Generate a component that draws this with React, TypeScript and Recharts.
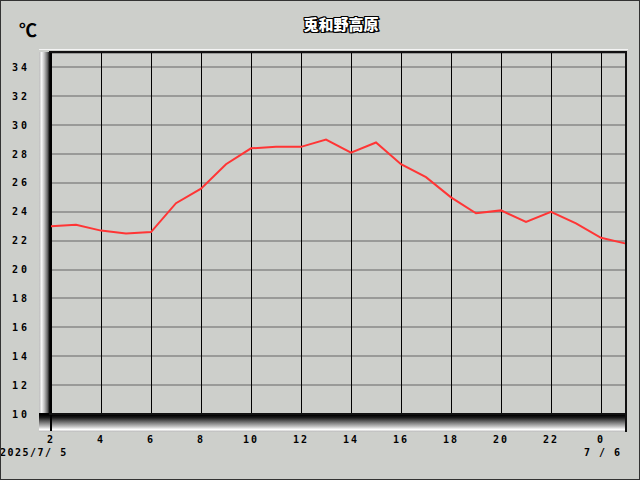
import { LineChart, Line, XAxis, YAxis, CartesianGrid } from "recharts";

// hours on the axis: 2 on 7/5 through 1 on 7/6 (24 = 0 on the next day)
const hours = [2, 3, 4, 5, 6, 7, 8, 9, 10, 11, 12, 13, 14, 15, 16, 17, 18, 19, 20, 21, 22, 23, 24, 25];
const temps = [
  23.0, 23.1, 22.7, 22.5, 22.6, 24.6, 25.6, 27.3, 28.4, 28.5, 28.5, 29.0,
  28.1, 28.8, 27.3, 26.4, 25.0, 23.9, 24.1, 23.3, 24.0, 23.2, 22.2, 21.8,
];
const xTicks = [2, 4, 6, 8, 10, 12, 14, 16, 18, 20, 22, 24];
const yTicks = [10, 12, 14, 16, 18, 20, 22, 24, 26, 28, 30, 32, 34];

const title = "兎和野高原";
const unit = "℃";
const startDate = "2025/7/ 5";
const endDate = "7 / 6";

const data = hours.map((h, i) => ({ hour: h, temp: temps[i] }));

const BG = "#cdcfcb";
const tickFont = "'DejaVu Sans Mono', monospace";

// eslint-disable-next-line @typescript-eslint/no-explicit-any
function XTick({ x, y, payload }: any) {
  return (
    <g>
      {payload.value === 2 && (
        <line x1={x} x2={x} y1={y} y2={y + 17} stroke="#000" strokeWidth={2} />
      )}
      <text
        x={x}
        y={y + 29}
        textAnchor="middle"
        fontFamily={tickFont}
        fontWeight="bold"
        fontSize={10}
        letterSpacing={2}
        fill="#000"
      >
        {payload.value % 24}
      </text>
    </g>
  );
}

// eslint-disable-next-line @typescript-eslint/no-explicit-any
function YTick({ x, y, payload }: any) {
  return (
    <g>
      {payload.value === 10 && (
        <line x1={x - 12} x2={x} y1={y} y2={y} stroke="#000" strokeWidth={2} />
      )}
      <text
        x={x - 39}
        y={y + 3.5}
        fontFamily={tickFont}
        fontWeight="bold"
        fontSize={10}
        letterSpacing={3}
        fill="#000"
      >
        {payload.value}
      </text>
    </g>
  );
}

const abs = (style: React.CSSProperties): React.CSSProperties => ({
  position: "absolute",
  pointerEvents: "none",
  ...style,
});

export default function App() {
  return (
    <div
      style={{
        position: "absolute",
        left: 0,
        top: 0,
        width: 640,
        height: 480,
        background: BG,
        boxSizing: "border-box",
        border: "1px solid #333",
        overflow: "hidden",
      }}
    >
      {/* bevelled frame round the plot */}
      <div style={abs({ left: 38, top: 48, width: 589, height: 1, background: "#f4f4f4" })} />
      <div
        style={abs({
          left: 38,
          top: 51,
          width: 12,
          height: 364,
          background:
            "linear-gradient(to right, #b8b8b8 0%, #f8f8f8 22%, #bdbdbd 45%, #6a6a6a 70%, #000 90%)",
        })}
      />
      <div
        style={abs({
          left: 38,
          top: 414,
          width: 588,
          height: 17,
          background:
            "linear-gradient(to bottom, #000 0%, #1a1a1a 15%, #6a6a6a 40%, #c8c8c8 70%, #ffffff 85%, #b5b5b5 100%)",
        })}
      />

      <div style={{ position: "absolute", left: -1, top: -1 }}>
        <LineChart
          width={640}
          height={480}
          data={data}
          margin={{ top: 53, right: 14, bottom: 0, left: 0 }}
        >
          <CartesianGrid
            vertical={false}
            stroke="#999a98"
            strokeWidth={2}
            shapeRendering="crispEdges"
          />
          <CartesianGrid
            horizontal={false}
            stroke="#000"
            strokeWidth={1}
            shapeRendering="crispEdges"
          />
          <XAxis
            dataKey="hour"
            type="number"
            domain={[2, 25]}
            ticks={xTicks}
            axisLine={false}
            tickLine={false}
            tickSize={0}
            tickMargin={0}
            tick={<XTick />}
            interval={0}
            height={66}
          />
          <YAxis
            type="number"
            domain={[10, 35]}
            ticks={yTicks}
            axisLine={false}
            tickLine={false}
            tickSize={0}
            tickMargin={0}
            tick={<YTick />}
            interval={0}
            width={51}
          />
          <Line
            dataKey="temp"
            type="linear"
            stroke="#ff3535"
            strokeWidth={2}
            dot={false}
            isAnimationActive={false}
          />
        </LineChart>
      </div>

      {/* dark edges of the plot box */}
      <div style={abs({ left: 48, top: 50, width: 578, height: 2, background: "#111" })} />
      <div style={abs({ left: 48, top: 412, width: 578, height: 2, background: "#111" })} />
      <div style={abs({ left: 624, top: 50, width: 2, height: 381, background: "#111" })} />

      <div
        style={abs({
          left: 0,
          width: 640,
          top: 12,
          textAlign: "center",
          paddingLeft: 40,
          boxSizing: "border-box",
          fontFamily: "'Noto Sans CJK JP', sans-serif",
          fontWeight: 900,
          fontSize: 15,
          color: "#fff",
          textShadow:
            "1px 0 0 #000, -1px 0 0 #000, 0 1px 0 #000, 0 -1px 0 #000, 1px 1px 0 #000, -1px -1px 0 #000, 1px -1px 0 #000, -1px 1px 0 #000, 2px 1px 0 #333",
        })}
      >
        {title}
      </div>
      <div
        style={abs({
          left: 18,
          top: 15,
          fontFamily: "'Noto Sans CJK JP', sans-serif",
          fontWeight: "bold",
          fontSize: 18,
          color: "#000",
        })}
      >
        {unit}
      </div>
      <div
        style={abs({
          left: -1,
          top: 446,
          fontFamily: tickFont,
          fontWeight: "bold",
          fontSize: 10,
          letterSpacing: 1.5,
          color: "#000",
        })}
      >
        {startDate}
      </div>
      <div
        style={abs({
          left: 583,
          top: 446,
          fontFamily: tickFont,
          fontWeight: "bold",
          fontSize: 10,
          letterSpacing: 1.5,
          color: "#000",
        })}
      >
        {endDate}
      </div>
    </div>
  );
}
